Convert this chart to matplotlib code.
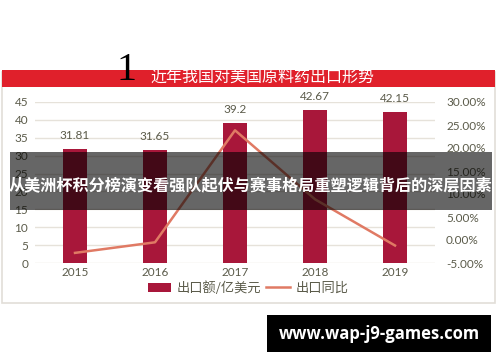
import matplotlib
matplotlib.use("Agg")
import matplotlib.pyplot as plt
from matplotlib.patches import Rectangle
from matplotlib.ticker import FuncFormatter

plt.rcParams['font.family'] = ['Lato', 'Noto Sans CJK SC', 'DejaVu Sans']

years = ['2015', '2016', '2017', '2018', '2019']
export_value = [31.81, 31.65, 39.2, 42.67, 42.15]
yoy_growth = [-2.8, -0.5, 23.85, 8.85, -1.2]
title = '近年我国对美国原料药出口形势'
banner = '从美洲杯积分榜演变看强队起伏与赛事格局重塑逻辑背后的深层因素'
watermark = 'www.wap-j9-games.com'
legend_labels = ['出口额/亿美元', '出口同比']

W, H = 500, 362
fig = plt.figure(figsize=(W / 100, H / 100), dpi=100)
fig.patch.set_facecolor('white')

def fx(px):
    return px / W

def fy(py):
    return 1 - py / H

# outer frame
fig.patches.append(Rectangle((fx(2), fy(303)), fx(493), 231 / H, transform=fig.transFigure,
                             facecolor='none', edgecolor='#E2DED8', lw=1.2, zorder=-1))
# red title bar
fig.patches.append(Rectangle((fx(2), fy(87)), fx(493), 17 / H, transform=fig.transFigure,
                             facecolor='#E0202B', edgecolor='none', zorder=1))
fig.text(fx(262), fy(78.5), title, color='white', fontsize=11.5, ha='center', va='center',
         family=['Noto Sans CJK SC', 'DejaVu Sans'], zorder=2)
fig.text(fx(126), fy(70), '1', color='black', fontsize=29, ha='center', va='center',
         family=['Liberation Serif'], zorder=3)

ax = fig.add_axes([fx(35), fy(263), fx(400), 161 / H])
ax.set_facecolor('none')
x = list(range(len(years)))
text_color = '#5B5B4A'
bars = ax.bar(x, export_value, width=0.31, color='#A8173A', zorder=2, label=legend_labels[0])
for xi, v in zip(x, export_value):
    ax.text(xi, v + 2.2, f'{v:g}', ha='center', va='bottom',
            fontsize=8.5, color=text_color)
ax.set_xlim(-0.5, 4.5)
ax.set_ylim(0, 45)
ax.set_yticks(range(0, 46, 5))
ax.set_xticks(x)
ax.set_xticklabels(years)
ax.grid(axis='y', color='#E6E2DA', lw=1, zorder=0)
for s in ax.spines.values():
    s.set_visible(False)
ax.tick_params(length=0, labelsize=8.5, colors=text_color)
ax.tick_params(axis='y', pad=5)
ax.tick_params(axis='x', pad=3)

ax2 = ax.twinx()
line, = ax2.plot(x, yoy_growth, color='#E07A64', lw=1.8, zorder=3, label=legend_labels[1])
ax2.set_ylim(-5, 30)
ax2.set_yticks(range(-5, 31, 5))
ax2.yaxis.set_major_formatter(FuncFormatter(lambda v, p: f'{v:.2f}%'))
for s in ax2.spines.values():
    s.set_visible(False)
ax2.tick_params(length=0, labelsize=8.5, colors=text_color, pad=8)

fig.legend([bars, line], legend_labels, loc='center', bbox_to_anchor=(fx(248), fy(288)),
           ncol=2, frameon=False, handlelength=1.8, handleheight=0.7,
           columnspacing=0.4, handletextpad=0.4, labelcolor=text_color,
           prop={'family': ['Noto Sans CJK SC', 'DejaVu Sans'], 'size': 9.5})

# banner overlay
fig.patches.append(Rectangle((fx(10), fy(210)), fx(482), 58 / H, transform=fig.transFigure,
                             facecolor='black', alpha=0.6, edgecolor='none', zorder=10))
fig.text(fx(251), fy(185), banner, color='white', fontsize=11.6, fontweight='bold',
         ha='center', va='center', family=['Noto Sans CJK SC', 'DejaVu Sans'], zorder=11)

# watermark
fig.patches.append(Rectangle((fx(267), fy(352)), fx(224), 37 / H, transform=fig.transFigure,
                             facecolor='black', edgecolor='none', zorder=10))
fig.text(fx(379), fy(334), watermark, color='white', fontsize=12, fontweight='bold',
         ha='center', va='center', family=['Open Sans', 'DejaVu Sans'], zorder=11)

fig.savefig('out.png', dpi=100)
